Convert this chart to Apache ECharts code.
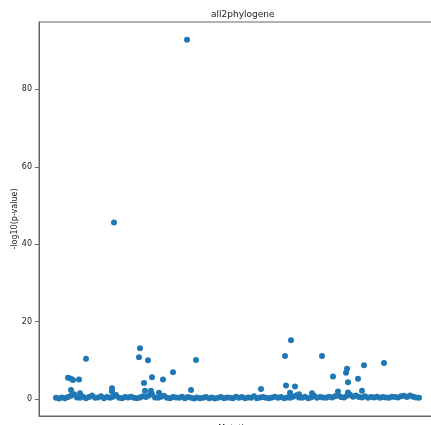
<!DOCTYPE html>
<html>
<head>
<meta charset="utf-8">
<script src="https://cdn.jsdelivr.net/npm/echarts@6/dist/echarts.min.js"></script>
<style>html,body{margin:0;padding:0;background:#fff}#c{width:431px;height:425px}</style>
</head>
<body>
<div id="c"></div>
<script>
// Mutation positions (index along the x axis) and -log10(p-value)
const baselineStep = 3;
const baselineValues = [
0.3,0.1,0.4,0.2,0.5,0.8,1.2,0.4,0.3,0.6,
0.2,0.5,0.9,0.3,0.4,0.7,0.2,0.5,0.3,0.6,
1.0,0.3,0.2,0.5,0.4,0.6,0.3,0.2,0.4,0.7,
0.5,0.9,1.2,0.4,0.3,0.6,0.8,0.3,0.2,0.5,
0.4,0.3,0.6,0.2,0.5,0.3,0.1,0.4,0.2,0.3,
0.5,0.2,0.4,0.1,0.3,0.5,0.2,0.4,0.3,0.2,
0.6,0.3,0.5,0.2,0.4,0.3,0.7,0.2,0.4,0.5,
0.3,0.2,0.4,0.6,0.3,0.5,0.2,0.4,0.3,0.6,
0.9,0.4,0.3,0.6,0.2,0.4,0.8,0.3,0.5,0.4,
0.3,0.6,0.4,0.7,0.9,0.5,0.4,0.8,1.1,0.6,
0.9,0.5,0.4,0.7,0.3,0.5,0.4,0.6,0.3,0.5,
0.4,0.3,0.6,0.5,0.4,0.7,0.8,0.5,0.9,0.6,
0.4,0.3
];
const outlierIndex = [131,58,30,12,15,17,23,15,24,56,56,84,83,92,88,96,107,117,89,95,103,140,135,
  235,229,266,328,308,291,290,277,302,292,205,230,239,306,234,243,282,292,256];
const outlierValues = [92.8,45.6,10.4,5.5,5.2,4.9,5.0,2.3,1.5,2.8,1.9,13.1,10.8,10.0,4.1,5.6,5.0,6.9,2.1,2.1,1.6,10.1,2.3,
  15.2,11.1,11.1,9.3,8.7,7.8,6.8,5.8,5.2,4.3,2.6,3.5,3.2,2.1,1.6,1.2,1.9,1.7,1.5];
const yTicks = [0,20,40,60,80];

const points = baselineValues.map((v,i)=>[i*baselineStep, v])
  .concat(outlierIndex.map((x,i)=>[x, outlierValues[i]]));

const chart = echarts.init(document.getElementById('c'), null, {renderer:'canvas'});
const txt = '#222';
chart.setOption({
  animation:false,
  backgroundColor:'#fff',
  title:{text:'all2phylogene', left:206, top:5,
    textStyle:{fontFamily:'DejaVu Sans', fontSize:9, fontWeight:'normal', color:txt}},
  grid:{left:39, right:-6, top:22, bottom:9, show:true, borderColor:'#666', borderWidth:1,
    containLabel:false, outerBoundsMode:'none'},
  xAxis:{type:'value', min:-17, max:381, name:'Mutations', nameLocation:'middle', nameGap:9, nameMoveOverlap:false,
    nameTextStyle:{fontFamily:'DejaVu Sans', fontSize:8, color:txt},
    axisLine:{show:true, onZero:false, lineStyle:{color:'#666'}}, axisTick:{show:false}, axisLabel:{show:false}, splitLine:{show:false}},
  yAxis:{type:'value', min:-4.4, max:97.4, name:'-log10(p-value)', nameLocation:'middle', nameGap:20, nameMoveOverlap:false,
    nameTextStyle:{fontFamily:'DejaVu Sans', fontSize:8, color:txt},
    axisLine:{show:true, onZero:false, lineStyle:{color:'#666'}},
    axisTick:{show:true, length:4, lineStyle:{color:'#666'}, customValues:yTicks},
    axisLabel:{fontFamily:'DejaVu Sans', fontSize:8, color:txt, margin:7, customValues:yTicks},
    splitLine:{show:false}},
  series:[{type:'scatter', data:points, symbolSize:6, itemStyle:{color:'#1f77b4', opacity:1}}]
});
</script>
</body>
</html>
